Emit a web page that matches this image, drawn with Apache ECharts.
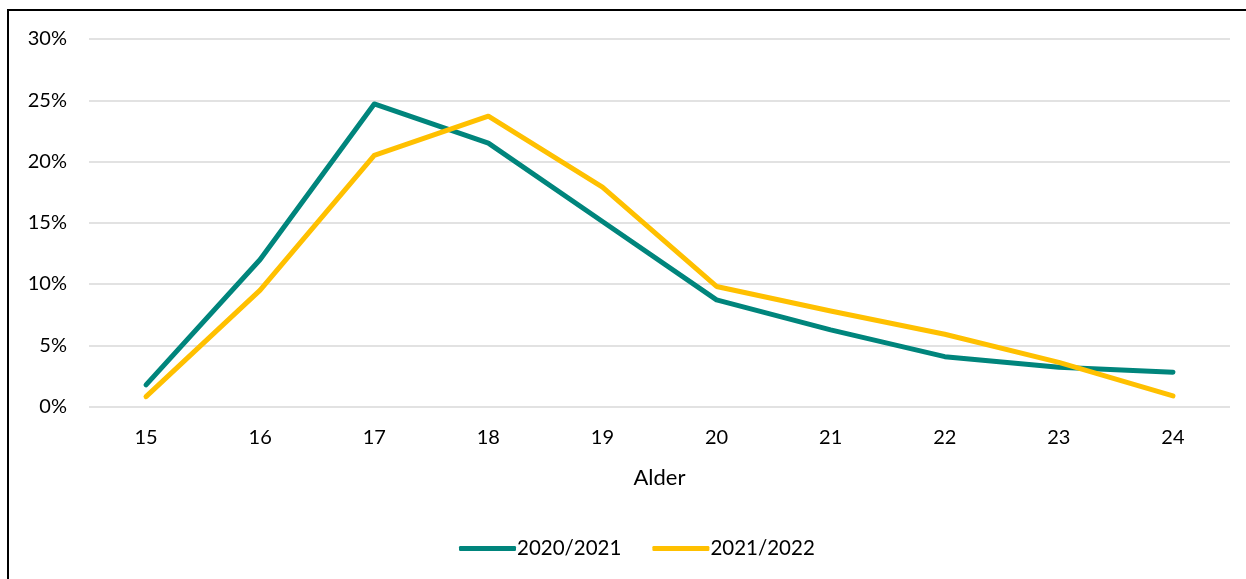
<!DOCTYPE html>
<html>
<head>
<meta charset="utf-8">
<script src="https://cdn.jsdelivr.net/npm/echarts@6/dist/echarts.min.js"></script>
<style>
html,body{margin:0;padding:0;background:#fff;overflow:hidden;}
#frame{position:absolute;left:7px;top:9px;width:1300px;height:700px;border-top:2px solid #000;border-left:2px solid #000;box-sizing:border-box;}
#chart{position:absolute;left:0;top:0;width:1246px;height:579px;}
</style>
</head>
<body>
<div id="frame"></div>
<div id="chart"></div>
<script>
const categories = ['15','16','17','18','19','20','21','22','23','24'];
const series2020 = [1.76, 12.0, 24.7, 21.5, 15.1, 8.7, 6.25, 4.07, 3.2, 2.8];
const series2021 = [0.8, 9.5, 20.5, 23.7, 17.9, 9.8, 7.8, 5.9, 3.6, 0.86];
const seriesNames = ['2020/2021', '2021/2022'];
const colors = ['#00857C', '#FFC000'];

const font = 'Lato, "Open Sans", sans-serif';
const chart = echarts.init(document.getElementById('chart'));
chart.setOption({
  animation: false,
  grid: {left: 89, right: 16, top: 39, bottom: 172.5},
  legend: {
    bottom: 15, left: 454,
    itemWidth: 57, itemHeight: 5, itemGap: 31,
    icon: 'roundRect',
    textStyle: {fontFamily: font, fontSize: 20.5, color: '#000', padding: [0,0,0,-4]},
    data: seriesNames
  },
  xAxis: {
    type: 'category',
    data: categories,
    boundaryGap: true,
    name: 'Alder',
    nameLocation: 'middle',
    nameGap: 60,
    nameTextStyle: {fontFamily: font, fontSize: 22, color: '#000'},
    axisLine: {show: false},
    axisTick: {show: false},
    axisLabel: {fontFamily: font, fontSize: 20, color: '#000', margin: 21}
  },
  yAxis: {
    type: 'value',
    min: 0, max: 30, interval: 5,
    axisLine: {show: false},
    axisTick: {show: false},
    splitLine: {lineStyle: {color: '#d9d9d9', width: 1.5}},
    axisLabel: {fontFamily: font, fontSize: 20, color: '#000', margin: 22, formatter: '{value}%'}
  },
  series: [
    {name: seriesNames[0], type: 'line', data: series2020, symbol: 'none',
     lineStyle: {color: colors[0], width: 5, cap: 'round', join: 'round'}, itemStyle: {color: colors[0]}},
    {name: seriesNames[1], type: 'line', data: series2021, symbol: 'none',
     lineStyle: {color: colors[1], width: 5, cap: 'round', join: 'round'}, itemStyle: {color: colors[1]}}
  ]
});
</script>
</body>
</html>
